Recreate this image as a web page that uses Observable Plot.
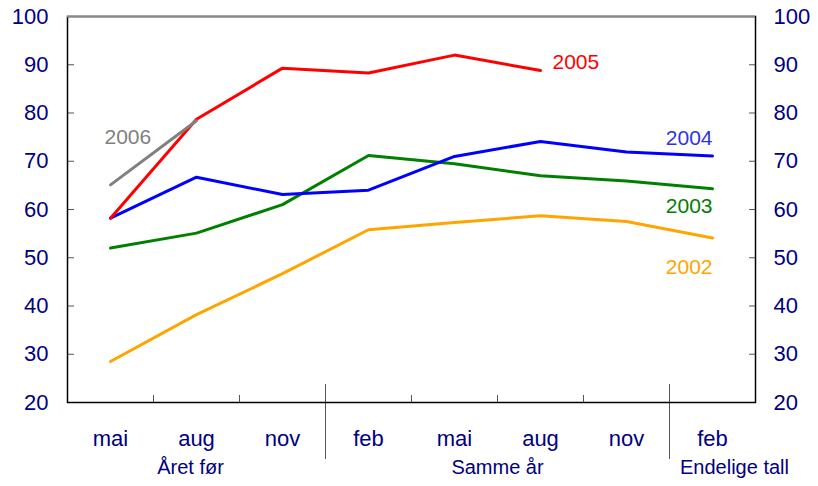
<!DOCTYPE html>
<html>
<head>
<meta charset="utf-8">
<script src="https://cdn.jsdelivr.net/npm/d3@7"></script>
<script src="https://cdn.jsdelivr.net/npm/@observablehq/plot@0.6"></script>
<style>
  body { margin: 0; background: #fff; }
  #chart svg { display: block; }
</style>
</head>
<body>
<div id="chart"></div>
<script>
const months = ["mai", "aug", "nov", "feb", "mai", "aug", "nov", "feb"];
const groups = ["Året før", "Samme år", "Endelige tall"];
const groupStart = [0, 3, 7];
const groupEnd = [2, 6, 7];
const yTicks = [20, 30, 40, 50, 60, 70, 80, 90, 100];

const v2002 = [28.5, 38.2, 46.7, 55.8, 57.3, 58.7, 57.5, 54.1];
const v2003 = [52.0, 55.1, 61.0, 71.2, 69.5, 67.0, 65.9, 64.3];
const v2004 = [58.2, 66.7, 63.1, 64.0, 71.0, 74.1, 71.9, 71.1];
const v2005 = [58.2, 78.7, 89.3, 88.3, 92.0, 88.8];
const v2006 = [65.1, 78.4];

const series = [
  {year: "2002", values: v2002, color: "#FFA500"},
  {year: "2003", values: v2003, color: "#008000"},
  {year: "2004", values: v2004, color: "#0000FF"},
  {year: "2005", values: v2005, color: "#FF0000"},
  {year: "2006", values: v2006, color: "#808080"}
];
const toPts = s => s.values.map((v, i) => ({i, v, year: s.year}));
const last = s => ({i: s.values.length - 1, v: s.values[s.values.length - 1], year: s.year});
const first = s => ({i: 0, v: s.values[0], year: s.year});

const navy = "#000080";
const font = "Liberation Sans, Arial, Helvetica, sans-serif";
const monthIdx = months.map((_, i) => i);
const boundaries = months.slice(1).map((_, i) => i + 0.5);
const separators = groupStart.slice(1).map(s => s - 0.5);
const grp = groups.map((g, k) => ({g, x: (groupStart[k] + groupEnd[k]) / 2}));

const lineMarks = series.map(s => Plot.line(toPts(s), {x: "i", y: "v", stroke: s.color, strokeWidth: 3}));

const sMap = Object.fromEntries(series.map(s => [s.year, s]));
const labelMark = (pt, color, opts) => Plot.text([pt], {x: "i", y: "v", text: "year", fill: color, fontSize: 21, ...opts});

const chart = Plot.plot({
  width: 818,
  height: 486,
  marginLeft: 67,
  marginRight: 63,
  marginTop: 16,
  marginBottom: 84,
  style: {fontFamily: font, background: "#fff"},
  x: {type: "linear", domain: [-0.5, 7.5]},
  y: {domain: [20, 100]},
  marks: [
    // inner tick marks on y axes
    Plot.axisY({anchor: "left", label: null, ticks: yTicks.slice(1, -1), tickSize: -7, tickFormat: () => "", stroke: "#555"}),
    Plot.axisY({anchor: "right", label: null, ticks: yTicks.slice(1, -1), tickSize: -7, tickFormat: () => "", stroke: "#555"}),
    // y labels
    Plot.axisY({anchor: "left", label: null, ticks: yTicks, tickSize: 0, tickPadding: 19, fontSize: 22, color: navy}),
    Plot.axisY({anchor: "right", label: null, ticks: yTicks, tickSize: 0, tickPadding: 18, fontSize: 22, color: navy}),
    // x boundary ticks
    Plot.axisX({label: null, ticks: boundaries, tickSize: -7, tickFormat: () => "", stroke: "#555"}),
    Plot.axisX({label: null, ticks: separators, tickSize: -18, tickFormat: () => "", stroke: "#555"}),
    Plot.axisX({label: null, ticks: separators, tickSize: 57, tickFormat: () => "", stroke: "#555"}),
    // month labels
    Plot.axisX({label: null, ticks: monthIdx, tickSize: 0, tickPadding: 28, fontSize: 22, color: navy, tickFormat: i => months[i]}),
    // group labels
    Plot.text(grp.slice(0, 1), {x: "x", text: "g", frameAnchor: "bottom", dy: 71, dx: -6, fontSize: 20, fill: navy}),
    Plot.text(grp.slice(1, 2), {x: "x", text: "g", frameAnchor: "bottom", dy: 71, fontSize: 20, fill: navy}),
    Plot.text(grp.slice(2), {x: "x", text: "g", frameAnchor: "bottom", dy: 71, dx: 22, fontSize: 20, fill: navy}),
    // frame
    Plot.frame({stroke: "black", strokeWidth: 1.5}),
    Plot.ruleY([100], {stroke: "#888", strokeWidth: 2}),
    ...lineMarks,
    labelMark(last(sMap["2005"]), "#FF0000", {textAnchor: "start", dx: 12, dy: -8}),
    labelMark(last(sMap["2004"]), "#3333DD", {textAnchor: "end", dy: -18}),
    labelMark(last(sMap["2003"]), "#008000", {textAnchor: "end", dy: 18}),
    labelMark(last(sMap["2002"]), "#FFA500", {textAnchor: "end", dy: 29}),
    labelMark(first(sMap["2006"]), "#808080", {textAnchor: "start", dx: -6, dy: -48})
  ]
});
document.getElementById("chart").appendChild(chart);
</script>
</body>
</html>
